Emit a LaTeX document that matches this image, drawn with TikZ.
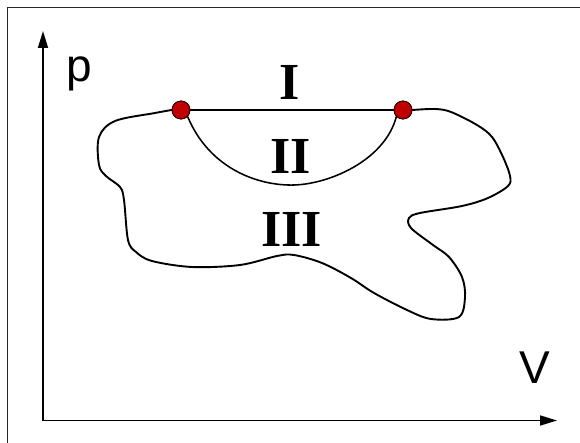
\documentclass[tikz,border=0pt]{standalone}
\usepackage{fontspec}
\setmainfont{Liberation Serif}
\setsansfont{Liberation Sans}
\usetikzlibrary{arrows.meta}
\definecolor{dotred}{RGB}{192,0,0}
\tikzset{
  axis/.style={line width=1.7pt, -{Triangle[length=17pt,width=10pt]}},
  curve/.style={line width=1.55pt, line join=round, line cap=round},
  statept/.style={circle, fill=dotred, draw=black!80!dotred, line width=0.8pt,
                  minimum width=18pt, minimum height=17pt, inner sep=0pt},
  axlabel/.style={font=\sffamily\fontsize{46}{46}\selectfont, inner sep=0pt},
  region/.style={font=\rmfamily\bfseries\fontsize{52}{52}\selectfont, inner sep=0pt}
}
\begin{document}
\begin{tikzpicture}[x=1pt,y=-1pt]
  \useasboundingbox (0,0) rectangle (580,443);
  % frame (only its left and top edges lie on the page)
  \draw[line width=1pt, black!85] (7.4,443) -- (7.4,7.4) -- (580,7.4);

  % axes
  \coordinate (origin) at (43,420.5);
  \coordinate (ytip) at (43,31);
  \coordinate (xtip) at (557,420.5);
  \draw[axis] (origin) -- (ytip);
  \draw[axis] (origin) -- (xtip);
  \node[axlabel, anchor=north west] (plab) at (66,57) {p};
  \node[axlabel, anchor=base west] (vlab) at (519.5,383) {V};

  % the two end states
  \node[statept] (A) at (181,110) {};
  \node[statept] (B) at (403,110) {};

  % path I: straight isobar
  \draw[curve] (A) -- (B);
  % path II: arc below
  \draw[curve] (A.south east) .. controls (210,170) and (260,186) .. (294,185)
                             .. controls (330,184) and (385,160) .. (B.south west);
  % path III: irregular closed loop
  \draw[curve, line width=1.9pt] plot[smooth, tension=0.55] coordinates {
    (A.west) (155,113) (115,121) (99,137) (99,165) (106,176) (120,187) (124,200)
    (128,240) (136,252) (152,261) (192,267) (240,265) (277,256) (294,255)
    (322,263) (351,278) (374,293) (407,310) (431,319) (459,317) (465,297)
    (462,277) (449,257) (433,245) (411,228) (409,218) (420,213) (462,206)
    (488,198) (508,186) (510,176) (503,157) (492,137) (477,125) (451,112)
    (435,109) (B.east)};

  % redraw dots on top
  \node[statept] at (A) {};
  \node[statept] at (B) {};

  % region labels
  \node[region, anchor=base] (lI) at (289.5,100) {I};
  \node[region, anchor=base] (lII) at (290.5,174) {II};
  \node[region, anchor=base] (lIII) at (291.5,247) {III};
\end{tikzpicture}
\end{document}
